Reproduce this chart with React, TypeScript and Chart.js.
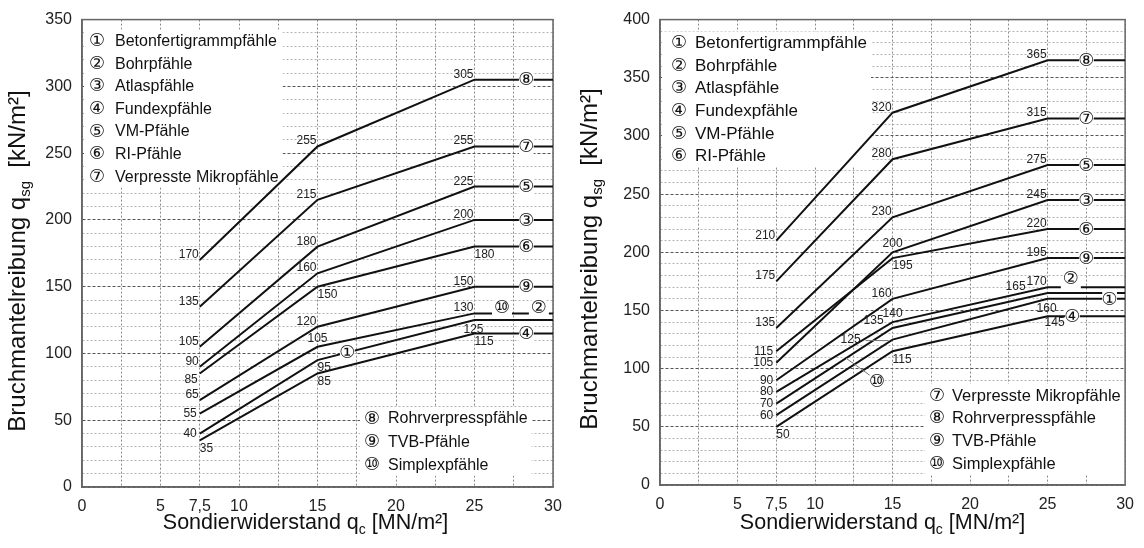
import React, { useEffect, useRef } from 'react';
import { Chart, registerables } from 'chart.js';

Chart.register(...registerables);

// ---------- data ----------
const xPoints = [7.5, 15, 25, 30];
const xTickValues = [0, 5, 7.5, 10, 15, 20, 25, 30];
const xTickTexts = ['0', '5', '7,5', '10', '15', '20', '25', '30'];

// left diagram (values at x = 7.5, 15, 25, 30)
const left8 = [170, 255, 305, 305];
const left7 = [135, 215, 255, 255];
const left5 = [105, 180, 225, 225];
const left3 = [90, 160, 200, 200];
const left6 = [85, 150, 180, 180];
const left9 = [65, 120, 150, 150];
const left2and10 = [55, 105, 130, 130];
const left1 = [40, 95, 125, 125];
const left4 = [35, 85, 115, 115];

// right diagram
const right8 = [210, 320, 365, 365];
const right7 = [175, 280, 315, 315];
const right5 = [135, 230, 275, 275];
const right6 = [115, 195, 220, 220];
const right3 = [105, 200, 245, 245];
const right9 = [90, 160, 195, 195];
const right2 = [80, 140, 170, 170];
const right10 = [70, 135, 165, 165];
const right1 = [60, 125, 160, 160];
const right4 = [50, 115, 145, 145];

const pileNames = [
  'Betonfertigrammpfähle',
  'Bohrpfähle',
  'Atlaspfähle',
  'Fundexpfähle',
  'VM-Pfähle',
  'RI-Pfähle',
  'Verpresste Mikropfähle',
  'Rohrverpresspfähle',
  'TVB-Pfähle',
  'Simplexpfähle',
];
const circled = ['①', '②', '③', '④', '⑤', '⑥', '⑦', '⑧', '⑨', '⑩'];

const yTitleParts = ['Bruchmantelreibung q', 'sg', '  [kN/m²]'];
const xTitleParts = ['Sondierwiderstand q', 'c', ' [MN/m²]'];

// ---------- styles ----------
const FONT = '"Liberation Sans", Arial, Helvetica, sans-serif';
const MARK_FONT = '"DejaVu Sans", "Noto Sans CJK JP", sans-serif';
const W = 572;
const H = 548;
const MARK_SIZE = 18;

type Place = 'al' | 'al2' | 'a' | 'l' | 'bl' | 'br' | 'br3' | 'b' | 'alf' | 'ld';
const placeStyle: Record<Place, { dx: number; dy: number; align: CanvasTextAlign; base: CanvasTextBaseline }> = {
  al: { dx: -1, dy: -2, align: 'right', base: 'alphabetic' },
  al2: { dx: -9, dy: -4, align: 'right', base: 'alphabetic' },
  a: { dx: 0, dy: -5, align: 'center', base: 'alphabetic' },
  l: { dx: -3, dy: 0, align: 'right', base: 'middle' },
  bl: { dx: -2, dy: 0, align: 'right', base: 'top' },
  br: { dx: 0, dy: 2, align: 'left', base: 'top' },
  br3: { dx: -3, dy: 0, align: 'left', base: 'top' },
  b: { dx: -1, dy: 4, align: 'center', base: 'top' },
  alf: { dx: -22, dy: -3, align: 'right', base: 'alphabetic' },
  ld: { dx: -32, dy: 0, align: 'right', base: 'middle' },
};

interface MarkCfg { n: number; x: number; dx?: number; dy?: number; leader?: boolean; gap?: boolean }
interface SeriesCfg { values: number[]; places: Place[]; marks: MarkCfg[] }
interface LegendCfg { items: number[]; anchor: 'top' | 'bottom'; y0: number; step: number; markX: number; textX: number; size: number }
interface ChartCfg {
  series: SeriesCfg[];
  yMax: number;
  box: { left: number; right: number; top: number; bottom: number };
  legends: LegendCfg[];
  yTitleY: number;
  xTitleShift: number;
}

const leftCfg: ChartCfg = {
  yMax: 350,
  box: { left: 82, right: 553, top: 14, bottom: 487 },
  yTitleY: 261,
  xTitleShift: -12,
  series: [
    { values: left8, places: ['al', 'al', 'al'], marks: [{ n: 7, x: 28.3 }] },
    { values: left7, places: ['al', 'al', 'al'], marks: [{ n: 6, x: 28.3 }] },
    { values: left5, places: ['al', 'al', 'al'], marks: [{ n: 4, x: 28.3 }] },
    { values: left3, places: ['al', 'al', 'al'], marks: [{ n: 2, x: 28.3 }] },
    { values: left6, places: ['bl', 'br', 'br'], marks: [{ n: 5, x: 28.3 }] },
    { values: left9, places: ['al', 'al', 'al'], marks: [{ n: 8, x: 28.3 }] },
    {
      values: left2and10,
      places: ['l', 'a', 'al'],
      marks: [{ n: 9, x: 26.75, dy: -6, gap: true }, { n: 1, x: 29.1, dy: -6, gap: true }],
    },
    { values: left1, places: ['l', 'br', 'b'], marks: [{ n: 0, x: 16.9 }] },
    { values: left4, places: ['br', 'br', 'br'], marks: [{ n: 3, x: 28.3 }] },
  ],
  legends: [
    { items: [0, 1, 2, 3, 4, 5, 6], anchor: 'top', y0: 21, step: 22.6, markX: 15, textX: 33, size: 16 },
    { items: [7, 8, 9], anchor: 'bottom', y0: -69, step: 23.3, markX: 290, textX: 306, size: 16 },
  ],
};

const rightCfg: ChartCfg = {
  yMax: 400,
  box: { left: 88, right: 559, top: 14, bottom: 485 },
  yTitleY: 259,
  xTitleShift: -10,
  series: [
    { values: right8, places: ['al', 'al', 'al'], marks: [{ n: 7, x: 27.5 }] },
    { values: right7, places: ['al', 'al', 'al'], marks: [{ n: 6, x: 27.5 }] },
    { values: right5, places: ['al', 'al', 'al'], marks: [{ n: 4, x: 27.5 }] },
    { values: right6, places: ['l', 'br', 'al'], marks: [{ n: 5, x: 27.5 }] },
    { values: right3, places: ['l', 'a', 'al'], marks: [{ n: 2, x: 27.5 }] },
    { values: right9, places: ['l', 'al', 'al'], marks: [{ n: 8, x: 27.5 }] },
    { values: right2, places: ['l', 'a', 'al'], marks: [{ n: 1, x: 26.5, dy: -9, gap: true }] },
    { values: right10, places: ['l', 'al2', 'alf'], marks: [{ n: 9, x: 12, dx: 31, dy: 23, leader: true }] },
    { values: right1, places: ['l', 'ld', 'b'], marks: [{ n: 0, x: 29 }] },
    { values: right4, places: ['br', 'br', 'br3'], marks: [{ n: 3, x: 26.6 }] },
  ],
  legends: [
    { items: [0, 1, 2, 3, 4, 5], anchor: 'top', y0: 23, step: 22.6, markX: 19, textX: 35, size: 17 },
    { items: [6, 7, 8, 9], anchor: 'bottom', y0: -90, step: 22.7, markX: 277, textX: 292, size: 16.5 },
  ],
};

function valueAt(values: number[], x: number): number {
  for (let i = 0; i < xPoints.length - 1; i++) {
    if (x >= xPoints[i] && x <= xPoints[i + 1]) {
      const t = (x - xPoints[i]) / (xPoints[i + 1] - xPoints[i]);
      return values[i] + t * (values[i + 1] - values[i]);
    }
  }
  return values[values.length - 1];
}

function drawRich(ctx: CanvasRenderingContext2D, parts: string[], size: number, subSize: number, subDy: number) {
  const widths: number[] = [];
  parts.forEach((p, i) => {
    ctx.font = `${i === 1 ? subSize : size}px ${FONT}`;
    widths.push(ctx.measureText(p).width);
  });
  const total = widths.reduce((a, b) => a + b, 0);
  let cur = -total / 2;
  ctx.textAlign = 'left';
  ctx.textBaseline = 'alphabetic';
  parts.forEach((p, i) => {
    ctx.font = `${i === 1 ? subSize : size}px ${FONT}`;
    ctx.fillText(p, cur, i === 1 ? subDy : 0);
    cur += widths[i];
  });
}

function drawMark(ctx: CanvasRenderingContext2D, text: string, cx: number, cy: number, size: number) {
  ctx.font = `${size}px ${MARK_FONT}`;
  const w = size * 0.82;
  ctx.fillStyle = '#fff';
  ctx.fillRect(cx - w / 2, cy - size / 2 + 1, w, size - 2);
  ctx.fillStyle = '#111';
  ctx.textAlign = 'center';
  ctx.textBaseline = 'middle';
  ctx.fillText(text, cx, cy + 1);
}

function makeAnnotPlugin(cfg: ChartCfg) {
  return {
    id: 'pileAnnotations',
    beforeDatasetsDraw(chart: any) {
      const ctx: CanvasRenderingContext2D = chart.ctx;
      const area = chart.chartArea;
      ctx.save();
      // legend boxes (under the curves)
      cfg.legends.forEach((lg) => {
        const base = lg.anchor === 'top' ? area.top : area.bottom;
        ctx.font = `${lg.size}px ${FONT}`;
        let maxW = 0;
        lg.items.forEach((k) => { maxW = Math.max(maxW, ctx.measureText(pileNames[k]).width); });
        const yFirst = base + lg.y0;
        const yLast = yFirst + (lg.items.length - 1) * lg.step;
        const x0 = lg.anchor === 'top' ? area.left + 2 : area.left + lg.markX - 12;
        ctx.fillStyle = '#fff';
        ctx.fillRect(x0, yFirst - 11, area.left + lg.textX + maxW + 4 - x0, yLast - yFirst + 22);
        lg.items.forEach((k, j) => {
          const y = yFirst + j * lg.step;
          ctx.font = `${MARK_SIZE}px ${MARK_FONT}`;
          ctx.fillStyle = '#111';
          ctx.textAlign = 'center';
          ctx.textBaseline = 'middle';
          ctx.fillText(circled[k], area.left + lg.markX, y + 1);
          ctx.font = `${lg.size}px ${FONT}`;
          ctx.textAlign = 'left';
          ctx.fillText(pileNames[k], area.left + lg.textX, y + 1);
        });
      });
      // frame
      ctx.strokeStyle = '#666';
      ctx.lineWidth = 1.5;
      ctx.strokeRect(area.left, area.top, area.right - area.left, area.bottom - area.top);
      ctx.restore();
    },
    afterDatasetsDraw(chart: any) {
      const ctx: CanvasRenderingContext2D = chart.ctx;
      const xs = chart.scales.x;
      const ys = chart.scales.y;
      const area = chart.chartArea;
      ctx.save();

      // value labels
      cfg.series.forEach((s) => {
        s.places.forEach((pl, i) => {
          const st = placeStyle[pl];
          const px = xs.getPixelForValue(xPoints[i]);
          const py = ys.getPixelForValue(s.values[i]);
          ctx.font = `12px ${FONT}`;
          ctx.fillStyle = '#222';
          ctx.textAlign = st.align;
          ctx.textBaseline = st.base;
          ctx.fillText(String(s.values[i]), px + st.dx, py + st.dy);
          if (pl === 'ld') {
            ctx.strokeStyle = '#777';
            ctx.lineWidth = 1;
            ctx.beginPath();
            ctx.moveTo(px - 27, py + 1);
            ctx.lineTo(px - 4, py + 1);
            ctx.stroke();
          }
        });
      });

      // circled marks on lines
      cfg.series.forEach((s) => {
        s.marks.forEach((m) => {
          const ax = xs.getPixelForValue(m.x);
          const ay = ys.getPixelForValue(valueAt(s.values, m.x));
          const cx = ax + (m.dx || 0);
          const cy = ay + (m.dy || 0);
          if (m.gap) {
            ctx.fillStyle = '#fff';
            ctx.fillRect(cx - 10, ay - 2, 20, 4);
          }
          if (m.leader) {
            ctx.strokeStyle = '#777';
            ctx.lineWidth = 1;
            ctx.beginPath();
            ctx.moveTo(ax, ay);
            ctx.lineTo(cx - 6, cy - 5);
            ctx.stroke();
          }
          drawMark(ctx, circled[m.n], cx, cy, MARK_SIZE);
        });
      });

      // axis titles
      ctx.fillStyle = '#111';
      ctx.save();
      ctx.translate(25, cfg.yTitleY);
      ctx.rotate(-Math.PI / 2);
      drawRich(ctx, yTitleParts, 24, 15, 5);
      ctx.restore();

      ctx.save();
      ctx.translate((area.left + area.right) / 2 + cfg.xTitleShift, 529);
      drawRich(ctx, xTitleParts, 21.5, 14, 5);
      ctx.restore();

      ctx.restore();
    },
  };
}

function PileChart({ cfg, offset }: { cfg: ChartCfg; offset: number }) {
  const ref = useRef<HTMLCanvasElement | null>(null);
  useEffect(() => {
    if (!ref.current) return;
    const chart = new Chart(ref.current, {
      type: 'line',
      data: {
        datasets: cfg.series.map((s) => ({
          data: xPoints.map((x, i) => ({ x, y: s.values[i] })),
          borderColor: '#111',
          borderWidth: 2,
          pointRadius: 0,
          tension: 0,
          fill: false,
        })),
      },
      options: {
        animation: false,
        responsive: true,
        maintainAspectRatio: false,
        layout: { padding: { left: 0, right: W - cfg.box.right, top: cfg.box.top, bottom: 0 } },
        plugins: { legend: { display: false }, tooltip: { enabled: false } },
        scales: {
          x: {
            type: 'linear',
            min: 0,
            max: 30,
            afterFit: (s: any) => { s.height = H - cfg.box.bottom; },
            ticks: {
              stepSize: 2.5,
              autoSkip: false,
              maxRotation: 0,
              padding: 10,
              color: '#222',
              font: { family: FONT, size: 16 },
              callback: (v: any) => {
                const i = xTickValues.indexOf(Number(v));
                return i >= 0 ? xTickTexts[i] : '';
              },
            },
            grid: { color: '#8a8a8a', lineWidth: 1, drawTicks: false },
            border: { display: true, color: '#666', width: 1.5, dash: [2, 2] },
          },
          y: {
            type: 'linear',
            min: 0,
            max: cfg.yMax,
            afterFit: (s: any) => { s.width = cfg.box.left; },
            ticks: {
              stepSize: 10,
              autoSkip: false,
              padding: 10,
              color: '#222',
              font: { family: FONT, size: 16 },
              callback: (v: any) => (Number(v) % 50 === 0 ? String(v) : ''),
            },
            grid: {
              color: (c: any) => (c.tick && c.tick.value % 50 === 0 ? '#555' : '#b5b5b5'),
              lineWidth: 1,
              drawTicks: false,
            },
            border: {
              display: true,
              color: '#666',
              width: 1.5,
              dash: (c: any) => (c.tick && c.tick.value % 50 === 0 ? [3, 2] : [2, 2]),
            },
          },
        },
      } as any,
      plugins: [makeAnnotPlugin(cfg)],
    });
    return () => chart.destroy();
  }, [cfg]);
  return (
    <div style={{ position: 'absolute', left: offset, top: 0, width: W, height: H }}>
      <canvas ref={ref} />
    </div>
  );
}

export default function App() {
  return (
    <div style={{ position: 'fixed', left: 0, top: 0, width: 2 * W, height: H, background: '#fff' }}>
      <PileChart cfg={leftCfg} offset={0} />
      <PileChart cfg={rightCfg} offset={W} />
    </div>
  );
}
